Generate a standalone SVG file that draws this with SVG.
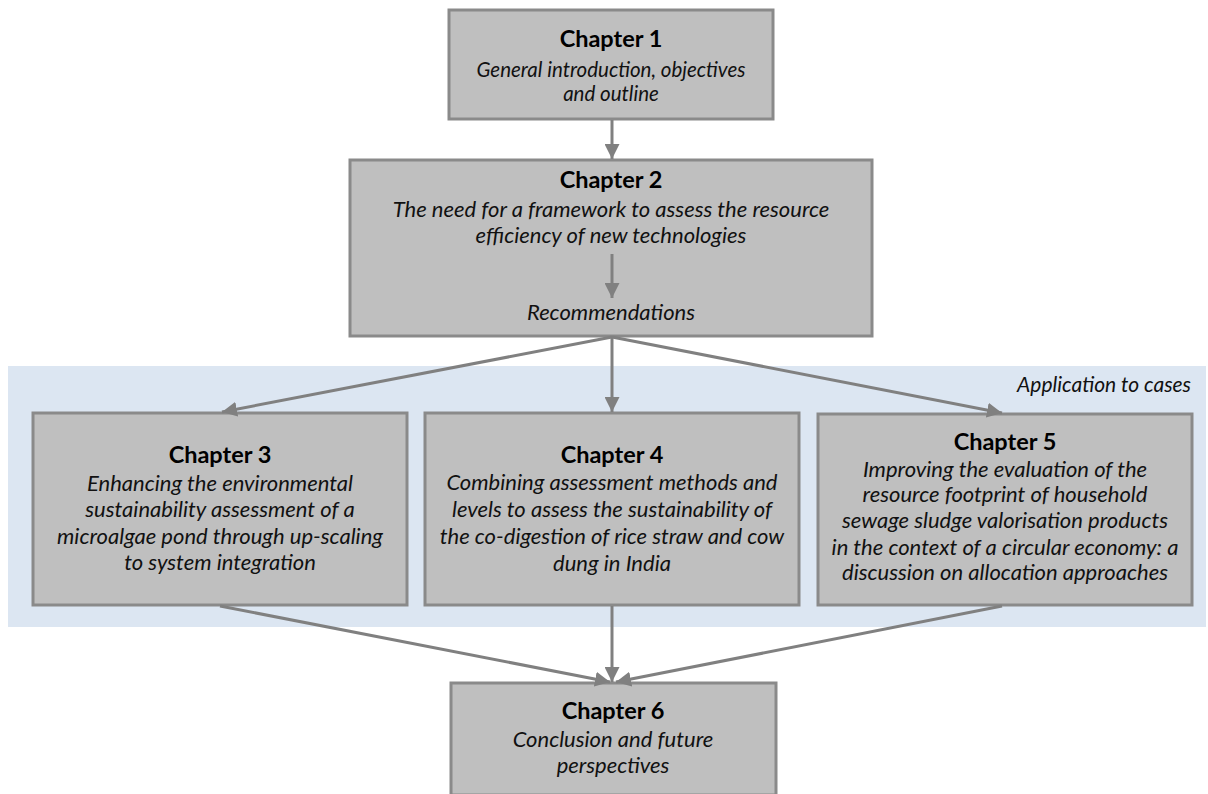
<svg xmlns="http://www.w3.org/2000/svg" width="1208" height="794" viewBox="0 0 1208 794">
  <style>
    .box { fill: #bfbfbf; stroke: #8a8a8a; stroke-width: 3; }
    .band { fill: #dce6f2; }
    .title { font-family: Lato, "Liberation Sans", sans-serif; font-weight: bold; font-size: 23.5px; fill: #000; text-anchor: middle; }
    .desc { font-family: Lato, "Liberation Sans", sans-serif; font-style: italic; font-size: 22px; fill: #111; text-anchor: middle; }
    .desc-s { font-size: 20.5px; }
    .label { font-family: Lato, "Liberation Sans", sans-serif; font-style: italic; font-size: 21px; fill: #111; text-anchor: end; }
    .conn { stroke: #808080; stroke-width: 3; fill: none; marker-end: url(#arrow); }
  </style>
  <defs>
    <marker id="arrow" markerWidth="5" markerHeight="5" viewBox="0 0 10 10" refX="10" refY="5" orient="auto" markerUnits="strokeWidth">
      <path d="M0,0 L10,5 L0,10 z" fill="#808080"/>
    </marker>
  </defs>

  <rect width="1208" height="794" fill="#ffffff"/>

  <!-- background band for the case chapters -->
  <g id="cases-band">
    <rect class="band" x="8" y="366" width="1198" height="261"/>
    <text class="label" x="1191" y="392">Application to cases</text>
  </g>

  <g id="chapter1">
    <rect class="box" x="449" y="10" width="324" height="109"/>
    <text class="title" x="611" y="47">Chapter 1</text>
    <text class="desc desc-s" x="611" y="77">General introduction, objectives</text>
    <text class="desc desc-s" x="611" y="101">and outline</text>
  </g>

  <g id="chapter2">
    <rect class="box" x="350" y="160" width="522" height="176"/>
    <text class="title" x="611" y="188">Chapter 2</text>
    <text class="desc" x="611" y="217">The need for a framework to assess the resource</text>
    <text class="desc" x="611" y="243">efficiency of new technologies</text>
    <text class="desc" x="611" y="320">Recommendations</text>
  </g>

  <g id="chapter3">
    <rect class="box" x="33" y="413" width="374" height="192"/>
    <text class="title" x="220" y="463">Chapter 3</text>
    <text class="desc" x="220" y="491">Enhancing the environmental</text>
    <text class="desc" x="220" y="517">sustainability assessment of a</text>
    <text class="desc" x="220" y="544">microalgae pond through up-scaling</text>
    <text class="desc" x="220" y="570">to system integration</text>
  </g>

  <g id="chapter4">
    <rect class="box" x="425" y="413" width="374" height="192"/>
    <text class="title" x="612" y="463">Chapter 4</text>
    <text class="desc" x="612" y="490">Combining assessment methods and</text>
    <text class="desc" x="612" y="517">levels to assess the sustainability of</text>
    <text class="desc" x="612" y="544">the co-digestion of rice straw and cow</text>
    <text class="desc" x="612" y="571">dung in India</text>
  </g>

  <g id="chapter5">
    <rect class="box" x="818" y="414" width="374" height="191"/>
    <text class="title" x="1005" y="450">Chapter 5</text>
    <text class="desc" x="1005" y="477">Improving the evaluation of the</text>
    <text class="desc" x="1005" y="502">resource footprint of household</text>
    <text class="desc" x="1005" y="528">sewage sludge valorisation products</text>
    <text class="desc" x="1005" y="555">in the context of a circular economy: a</text>
    <text class="desc" x="1005" y="580">discussion on allocation approaches</text>
  </g>

  <g id="chapter6">
    <rect class="box" x="451" y="683" width="325" height="112"/>
    <text class="title" x="613" y="719">Chapter 6</text>
    <text class="desc" x="613" y="747">Conclusion and future</text>
    <text class="desc" x="613" y="773">perspectives</text>
  </g>

  <g id="connectors">
    <line class="conn" x1="612" y1="120" x2="612" y2="159"/>
    <line class="conn" x1="612" y1="254" x2="612" y2="298"/>
    <line class="conn" x1="612" y1="337" x2="222" y2="412"/>
    <line class="conn" x1="612" y1="337" x2="612" y2="412"/>
    <line class="conn" x1="612" y1="337" x2="1002" y2="413"/>
    <line class="conn" x1="220" y1="606" x2="610" y2="682"/>
    <line class="conn" x1="612" y1="606" x2="612" y2="682"/>
    <line class="conn" x1="1002" y1="606" x2="616" y2="682"/>
  </g>
</svg>
